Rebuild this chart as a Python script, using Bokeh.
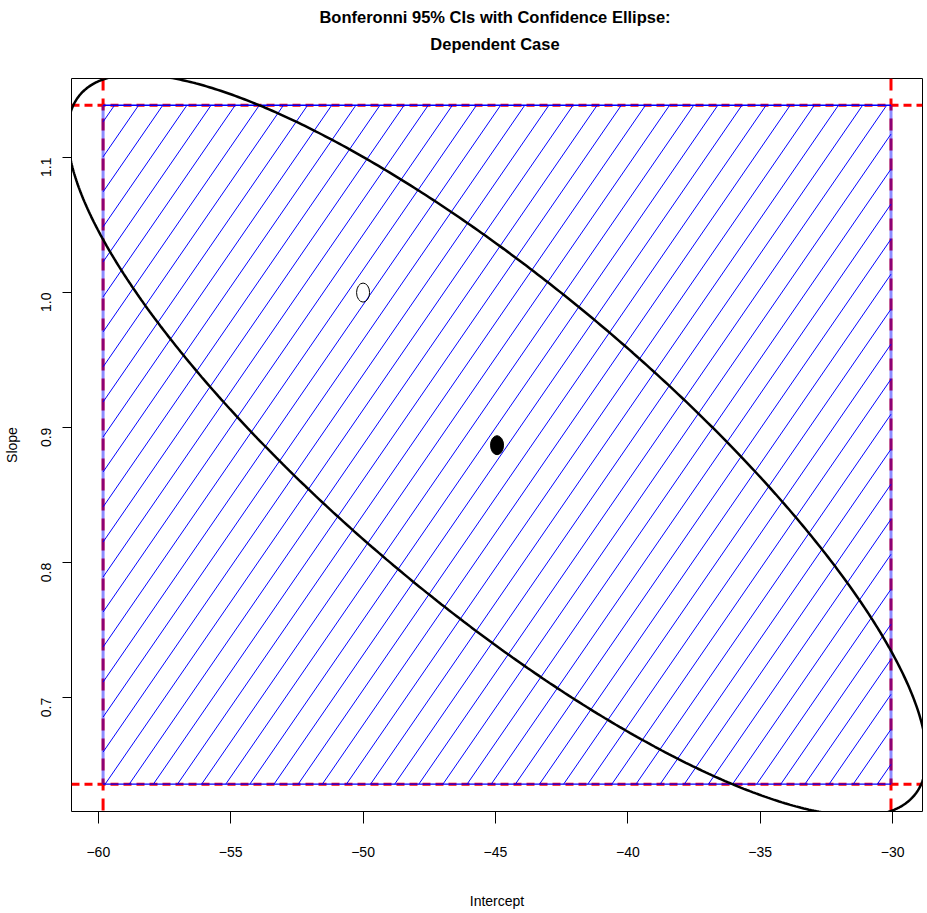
import numpy as np
from bokeh.plotting import figure
from bokeh.models import Range1d, Span, FixedTicker, Div
from bokeh.layouts import column
from bokeh.embed import file_html
from bokeh.resources import INLINE

# ---- data ----
x_ticks = [-60, -55, -50, -45, -40, -35, -30]
y_ticks = [0.7, 0.8, 0.9, 1.0, 1.1]
ci_intercept = [-59.82, -30.06]      # Bonferroni CI for intercept
ci_slope = [0.636, 1.1387]           # Bonferroni CI for slope
estimate = [-44.94, 0.887]           # point estimate (filled)
null_point = [-50.0, 1.0]            # hypothesised value (open)
ellipse_half = [16.22, 0.2745]       # half extents of confidence ellipse
ellipse_corr = -0.84                 # correlation of estimates
x_lim = [-61.013, -28.87]
y_lim = [0.6158, 1.1585]
title_lines = ["Bonferonni 95% CIs with Confidence Ellipse:", "Dependent Case"]

# hatch style (R density shading)
hatch_dx = 0.9115
hatch_slope = 0.02844
hatch_anchor = -30.22

FONT = "Liberation Sans"
W, H = 927, 913
TITLE_H = 76
BL, BR, BT, BB = 68, 5, 2, 102   # borders around the plot frame
frame_w = W - BL - BR

p = figure(width=W, height=H - TITLE_H, x_range=Range1d(*x_lim), y_range=Range1d(*y_lim),
           output_backend="svg", toolbar_location=None, title_location=None,
           min_border_left=BL, min_border_right=BR, min_border_top=BT, min_border_bottom=BB)
p.margin = (0, 0, 0, 0)
p.grid.visible = False
p.outline_line_color = "black"
p.outline_line_width = 1

# two-line bold title, centred over the plot frame
title_html = ("<div style=\"display:block; width:%dpx; text-align:center; font-family:'%s'; "
              "font-weight:bold; font-size:16.5px; line-height:27px; color:black; "
              "padding-top:3.5px;\">%s<br>%s</div>"
              % (frame_w, FONT, title_lines[0], title_lines[1]))
title_div = Div(text=title_html, width=frame_w, height=TITLE_H, margin=(0, 0, 0, BL))

# axes
xa = p.xaxis[0]
xa.ticker = FixedTicker(ticks=x_ticks)
xa.major_label_overrides = {t: ("\u2212%d" % abs(t)) for t in x_ticks}
xa.axis_label = "Intercept"
ya = p.yaxis[0]
ya.ticker = FixedTicker(ticks=y_ticks)
ya.major_label_overrides = {t: ("%.1f" % t) for t in y_ticks}
ya.axis_label = "Slope"
ya.major_label_orientation = np.pi / 2
for ax in (xa, ya):
    ax.axis_line_color = None
    ax.minor_tick_line_color = None
    ax.major_tick_in = 0
    ax.major_tick_line_color = "black"
    ax.major_label_text_font = FONT
    ax.major_label_text_font_size = "14px"
    ax.major_label_text_color = "black"
    ax.axis_label_text_font = FONT
    ax.axis_label_text_font_size = "14px"
    ax.axis_label_text_font_style = "normal"
    ax.axis_label_text_color = "black"
xa.major_tick_out = 12
xa.major_label_standoff = 23
xa.axis_label_standoff = 33
ya.major_tick_out = 9
ya.major_label_standoff = 16
ya.axis_label_standoff = 14

# red dashed reference lines (abline)
for v in ci_intercept:
    p.add_layout(Span(location=v, dimension="height", line_color="red",
                      line_dash="12 8", line_width=3, level="underlay"))
for h in ci_slope:
    p.add_layout(Span(location=h, dimension="width", line_color="red",
                      line_dash="8 5", line_width=3, level="underlay"))

# hatching inside the Bonferroni rectangle
x1, x2 = ci_intercept
y1, y2 = ci_slope
xs0, ys0, xs1, ys1 = [], [], [], []
span_x = (y2 - y1) / hatch_slope
k_min = int(np.floor((hatch_anchor - (x2 + span_x)) / hatch_dx)) - 1
k_max = int(np.ceil((hatch_anchor - x1) / hatch_dx)) + 1
for k in range(k_min, k_max + 1):
    xt = hatch_anchor - k * hatch_dx
    xa_ = xt - span_x
    ya_ = y1
    xb_, yb_ = xt, y2
    if xa_ < x1:
        ya_ = y2 + hatch_slope * (x1 - xt)
        xa_ = x1
    if xb_ > x2:
        yb_ = y2 + hatch_slope * (x2 - xt)
        xb_ = x2
    if xa_ >= xb_ or ya_ >= yb_:
        continue
    xs0.append(xa_); ys0.append(ya_); xs1.append(xb_); ys1.append(yb_)
p.segment(x0=xs0, y0=ys0, x1=xs1, y1=ys1, line_color="blue", line_width=1)

# rectangle border
p.segment(x0=[x1, x2], y0=[y1, y1], x1=[x1, x2], y1=[y2, y2],
          line_color="blue", line_width=3, line_alpha=0.45)
p.segment(x0=[x1, x1], y0=[y1, y2], x1=[x2, x2], y1=[y1, y2],
          line_color="blue", line_width=1.3)

# confidence ellipse
theta = np.linspace(0, 2 * np.pi, 721)
d = np.arccos(ellipse_corr)
ex = estimate[0] + ellipse_half[0] * np.cos(theta + d / 2)
ey = estimate[1] + ellipse_half[1] * np.cos(theta - d / 2)
p.line(ex, ey, line_color="black", line_width=2.5)

# points
p.ellipse(x=[null_point[0]], y=[null_point[1]], width=13, height=19,
          width_units="screen", height_units="screen",
          fill_color=None, line_color="black", line_width=1)
p.ellipse(x=[estimate[0]], y=[estimate[1]], width=13, height=19,
          width_units="screen", height_units="screen",
          fill_color="black", line_color="black", line_width=1)

layout = column(title_div, p, spacing=0)
open("out.html", "w").write(file_html(layout, INLINE))
